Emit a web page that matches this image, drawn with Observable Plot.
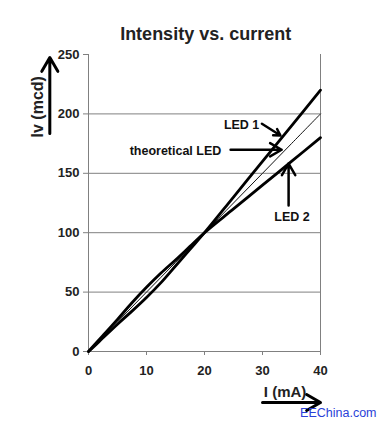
<!DOCTYPE html>
<html>
<head>
<meta charset="utf-8">
<script src="https://cdn.jsdelivr.net/npm/d3@7"></script>
<script src="https://cdn.jsdelivr.net/npm/@observablehq/plot@0.6"></script>
<style>
  html, body { margin: 0; padding: 0; background: #fff; }
</style>
</head>
<body>
<div id="chart"></div>
<script>
// ---- data ----
const current = [0, 1, 2.5, 5, 7.5, 10, 12.5, 15, 17.5, 20, 25, 30, 35, 40];
const led1    = [0, 4.5, 11.5, 23, 34, 45.5, 58, 72, 86, 100, 130, 160, 190, 220];
const led2    = [0, 5.5, 13.5, 27, 41, 54, 66, 77, 88.5, 100, 120, 140, 160, 180];
const theory  = [0, 5, 12.5, 25, 37.5, 50, 62.5, 75, 87.5, 100, 125, 150, 175, 200];
const xTicks = [0, 10, 20, 30, 40];
const yTicks = [0, 50, 100, 150, 200, 250];
const gridValues = [50, 100, 150, 200];

const titleText = "Intensity vs. current";
const yLabel = "Iv (mcd)";
const xLabel = "I (mA)";
const watermark = "EEChina.com";

// annotation labels (data coordinates)
const centeredLabels = [
  {text: "LED 1", x: 26.4, y: 191},
  {text: "LED 2", x: 35.1, y: 113}
];
const endLabels = [
  {text: "theoretical LED", x: 22.9, y: 168.4}
];
const pointers = [
  {x1: 29.9, y1: 191.7, x2: 33.1, y2: 181.8},
  {x1: 24.5, y1: 169.8, x2: 33.3, y2: 169.8},
  {x1: 34.5, y1: 122.9, x2: 34.5, y2: 158.2}
];

const rows = (ys) => current.map((c, i) => ({x: c, y: ys[i]}));

const font = "'Liberation Sans', Arial, Helvetica, sans-serif";
const grey = "#808080";

const chart = Plot.plot({
  width: 382,
  height: 422,
  marginLeft: 88,
  marginRight: 62,
  marginTop: 54,
  marginBottom: 71,
  style: {fontFamily: font, background: "#fff", color: "#222"},
  x: {domain: [0, 40]},
  y: {domain: [0, 250]},
  marks: [
    Plot.gridY(gridValues, {stroke: grey, strokeOpacity: 1, strokeWidth: 1}),
    Plot.ruleX([40], {stroke: grey, strokeWidth: 1}),
    Plot.ruleX([0], {stroke: grey, strokeWidth: 1}),
    Plot.ruleY([0], {stroke: grey, strokeWidth: 1}),
    Plot.axisY({ticks: yTicks, tickSize: 5, tickPadding: 4, fontSize: 13, fontWeight: "bold",
                stroke: grey, color: "#222", label: null}),
    Plot.axisX({ticks: xTicks, tickSize: 4, tickPadding: 10, fontSize: 13, fontWeight: "bold",
                stroke: grey, color: "#222", label: null}),
    Plot.line(rows(theory), {x: "x", y: "y", stroke: "#111", strokeWidth: 1, curve: "catmull-rom"}),
    Plot.line(rows(led1), {x: "x", y: "y", stroke: "#000", strokeWidth: 2.8, curve: "catmull-rom"}),
    Plot.line(rows(led2), {x: "x", y: "y", stroke: "#000", strokeWidth: 2.8, curve: "catmull-rom"}),
    Plot.arrow(pointers, {x1: "x1", y1: "y1", x2: "x2", y2: "y2", stroke: "#000",
                          strokeWidth: 2.5, headLength: 8}),
    Plot.text(centeredLabels, {x: "x", y: "y", text: "text", textAnchor: "middle",
                       fontSize: 12.5, fontWeight: "bold", fill: "#111", lineAnchor: "middle"}),
    Plot.text(endLabels, {x: "x", y: "y", text: "text", textAnchor: "end",
                       fontSize: 12.5, fontWeight: "bold", fill: "#111", lineAnchor: "middle"}),
    // title
    Plot.text([titleText], {x: () => 20.2, y: () => 266.7, text: d => d, fontSize: 18,
                            fontWeight: "bold", fill: "#222", lineAnchor: "middle"}),
    // y axis label + arrow
    Plot.text([yLabel], {x: () => -8.7, y: () => 206, text: d => d, rotate: -90, fontSize: 16,
                         fontWeight: "bold", fill: "#222", lineAnchor: "middle"}),
    Plot.arrow([0], {x1: () => -6.67, y1: () => 183.5, x2: () => -6.67, y2: () => 247.5,
                     stroke: "#000", strokeWidth: 3, headLength: 8}),
    // x axis label + arrow
    Plot.text([xLabel], {x: () => 33.9, y: () => -34.6, text: d => d, fontSize: 15,
                         fontWeight: "bold", fill: "#222", lineAnchor: "middle"}),
    Plot.arrow([0], {x1: () => 30, y1: () => -42.9, x2: () => 40, y2: () => -42.9,
                     stroke: "#000", strokeWidth: 3, headLength: 8}),
    // watermark
    Plot.text([watermark], {x: () => 49.66, y: () => -51.5, text: d => d, fontSize: 12.5,
                            fill: "#2a3fd8", textAnchor: "end", lineAnchor: "middle"})
  ]
});

document.getElementById("chart").appendChild(chart);
</script>
</body>
</html>
